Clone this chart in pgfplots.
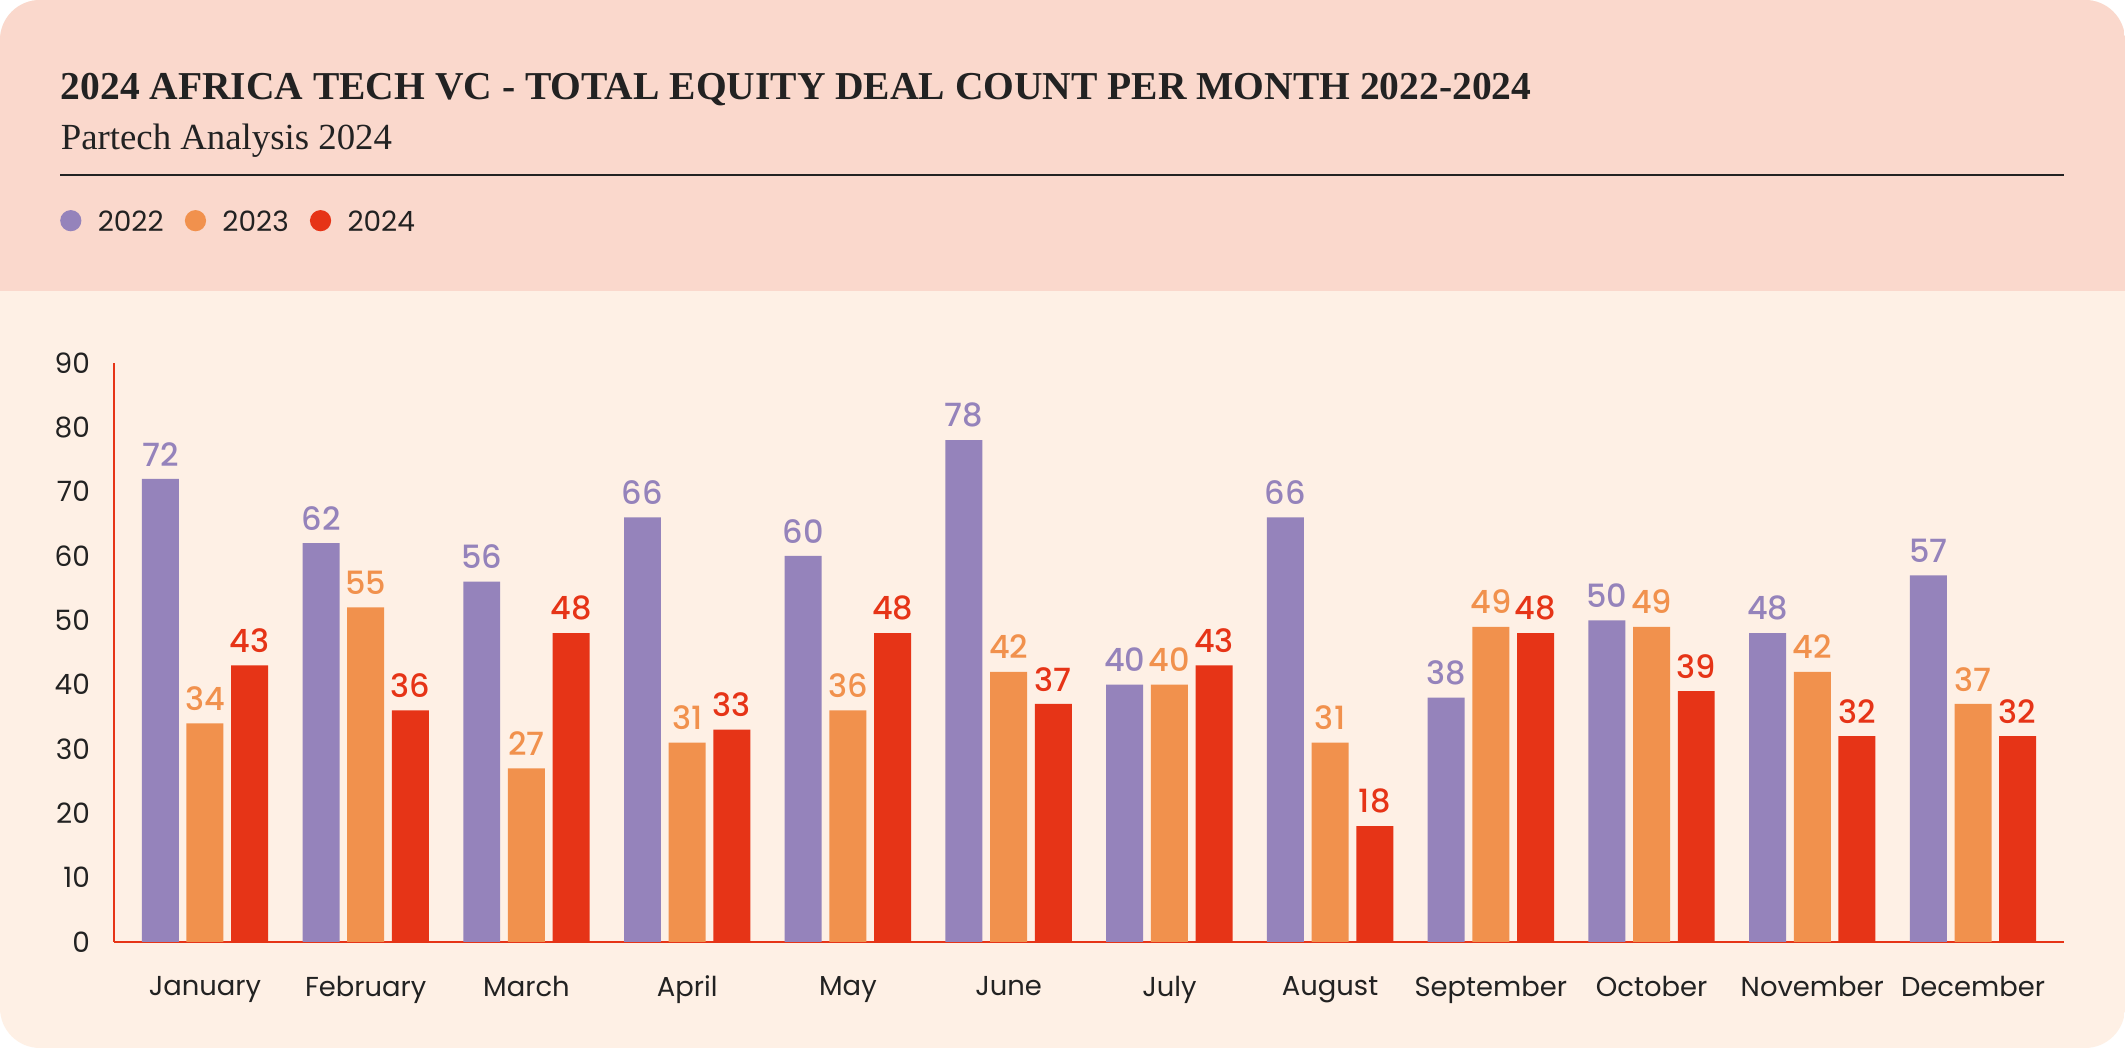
\documentclass[border=0pt]{standalone}
\usepackage{pgfplots}
\pgfplotsset{compat=1.18}
\usepackage{fontspec}
\setmainfont{Poppins}
\newfontfamily\titlefont{Liberation Serif}
\newfontfamily\pmed{Poppins Medium}

\definecolor{c22}{HTML}{9583BB}
\definecolor{c23}{HTML}{F1914D}
\definecolor{c24}{HTML}{E63417}
\definecolor{headbg}{HTML}{FAD8CC}
\definecolor{bodybg}{HTML}{FEF0E5}
\definecolor{ink}{HTML}{222222}

\begin{document}
\begin{tikzpicture}
  \useasboundingbox (0,0) rectangle (531.25pt,262pt);
  \fill[white] (0,0) rectangle (531.25pt,262pt);
  \begin{scope}
    \clip[rounded corners=10pt] (0,0) rectangle (531.25pt,262pt);
    \fill[bodybg] (0,0) rectangle (531.25pt,262pt);
    \fill[headbg] (0,189.25pt) rectangle (531.25pt,262pt);
  \end{scope}
  % header
  \node[anchor=base west, inner sep=0pt, text=ink,
        font=\titlefont\bfseries\fontsize{9.88}{12}\selectfont]
    at (15pt,237pt) {2024 AFRICA TECH VC - TOTAL EQUITY DEAL COUNT PER MONTH 2022-2024};
  \node[anchor=base west, inner sep=0pt, text=ink,
        font=\titlefont\fontsize{9.2}{11}\selectfont]
    at (15pt,224.5pt) {Partech Analysis 2024};
  \draw[ink, line width=0.5pt] (15pt,218.25pt) -- (516pt,218.25pt);

  \begin{axis}[
      at={(28.5pt,26.5pt)}, anchor=south west,
      scale only axis,
      width=487.5pt, height=144.75pt,
      xmin=-0.566, xmax=11.566,
      ymin=0, ymax=90,
      ybar, bar width=0.23,
      clip=false,
      axis x line*=bottom, axis y line*=left,
      axis line style={c24, line width=0.45pt, -},
      xtick={0,...,11},
      xticklabels={January,February,March,April,May,June,July,August,September,October,November,December},
      ytick={0,10,...,90},
      major tick length=0pt,
      /pgf/number format/assume math mode=true,
      ticklabel style={font=\fontsize{7}{8}\selectfont, text=ink},
      yticklabel style={xshift=-2.5pt},
      xticklabel style={yshift=-5pt, font=\fontsize{6.85}{8}\selectfont},
      nodes near coords,
      every node near coord/.append style={font=\pmed\fontsize{8}{9}\selectfont, inner sep=0pt, yshift=3pt},
      legend image code/.code={\fill[#1] (0pt,0.9pt) circle (2.65pt);},
      legend columns=-1,
      legend style={at={(-0.028,1.2396)}, anchor=west, draw=none, fill=none,
        inner sep=0pt, font=\fontsize{7}{8}\selectfont, text=ink,
        /tikz/every odd column/.append style={column sep=4.1pt},
        /tikz/every even column/.append style={column sep=5.3pt},
        nodes={inner xsep=0pt}},
    ]
    \addplot[fill=c22, draw=none, bar shift=-0.278,
      every node near coord/.append style={text=c22}] coordinates {
      (0,72) (1,62) (2,56) (3,66) (4,60) (5,78)
      (6,40) (7,66) (8,38) (9,50) (10,48) (11,57)
    };
    \addlegendentry{2022}
    % February bar is drawn shorter than its label in the source
    \addplot[fill=c23, draw=none, bar shift=0, point meta=explicit,
      every node near coord/.append style={text=c23}] coordinates {
      (0,34) [34] (1,52) [55] (2,27) [27] (3,31) [31] (4,36) [36] (5,42) [42]
      (6,40) [40] (7,31) [31] (8,49) [49] (9,49) [49] (10,42) [42] (11,37) [37]
    };
    \addlegendentry{2023}
    \addplot[fill=c24, draw=none, bar shift=0.278,
      every node near coord/.append style={text=c24}] coordinates {
      (0,43) (1,36) (2,48) (3,33) (4,48) (5,37)
      (6,43) (7,18) (8,48) (9,39) (10,32) (11,32)
    };
    \addlegendentry{2024}
  \end{axis}
\end{tikzpicture}
\end{document}
